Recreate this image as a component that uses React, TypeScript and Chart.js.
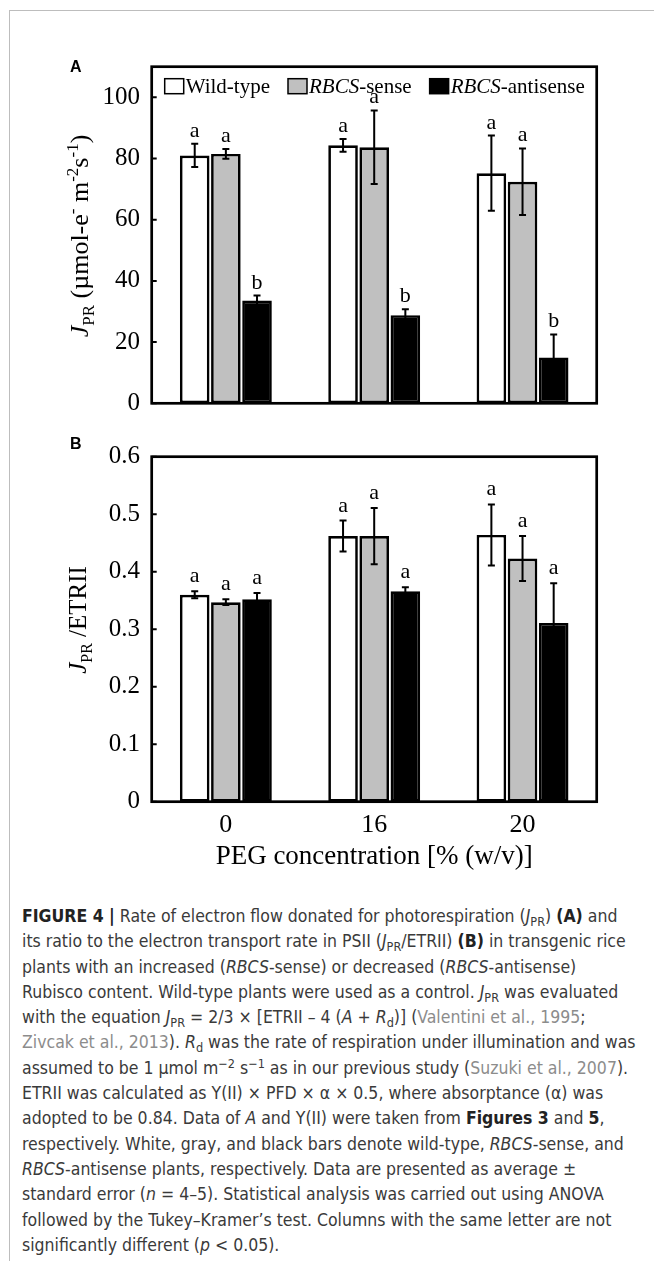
import React, { useEffect, useRef } from "react";
import { Chart, registerables } from "chart.js";

Chart.register(...registerables);

// ---------- data ----------
const categories = ["0", "16", "20"];
const seriesNames = ["Wild-type", "RBCS-sense", "RBCS-antisense"];
const seriesFill = ["#ffffff", "#c0c0c0", "#000000"];

// Panel A: J_PR (µmol e- m-2 s-1)
const jprWild = [81.0, 84.3, 75.2];
const jprWildErr = [3.8, 2.1, 12.3];
const jprSense = [81.5, 83.7, 72.4];
const jprSenseErr = [1.6, 12.0, 10.9];
const jprAnti = [33.6, 28.8, 15.0];
const jprAntiErr = [1.6, 1.9, 7.5];
const jprWildLetters = ["a", "a", "a"];
const jprSenseLetters = ["a", "a", "a"];
const jprAntiLetters = ["b", "b", "b"];
const yTicksA = [0, 20, 40, 60, 80, 100];
const yTickLabelsA = ["0", "20", "40", "60", "80", "100"];
const yMaxA = 110;

// Panel B: J_PR / ETRII
const ratioWild = [0.36, 0.462, 0.464];
const ratioWildErr = [0.006, 0.027, 0.053];
const ratioSense = [0.347, 0.462, 0.423];
const ratioSenseErr = [0.005, 0.049, 0.039];
const ratioAnti = [0.352, 0.366, 0.311];
const ratioAntiErr = [0.011, 0.007, 0.069];
const ratioWildLetters = ["a", "a", "a"];
const ratioSenseLetters = ["a", "a", "a"];
const ratioAntiLetters = ["a", "a", "a"];
const yTicksB = [0, 0.1, 0.2, 0.3, 0.4, 0.5, 0.6];
const yTickLabelsB = ["0", "0.1", "0.2", "0.3", "0.4", "0.5", "0.6"];
const yMaxB = 0.6;

const xTitle = "PEG concentration [% (w/v)]";

// ---------- drawing helpers ----------
const SERIF = '"Liberation Serif", "Times New Roman", serif';
const SANS = '"Liberation Sans", Arial, sans-serif';

type Seg = { text: string; font: string; dy?: number };

function drawRich(ctx: CanvasRenderingContext2D, segs: Seg[], x: number, y: number, rotate: boolean, align: "center" | "left" = "center") {
  ctx.save();
  ctx.translate(x, y);
  if (rotate) ctx.rotate(-Math.PI / 2);
  let total = 0;
  const widths = segs.map((s) => {
    ctx.font = s.font;
    const w = ctx.measureText(s.text).width;
    total += w;
    return w;
  });
  let cx = align === "center" ? -total / 2 : 0;
  ctx.textBaseline = "alphabetic";
  ctx.textAlign = "left";
  ctx.fillStyle = "#000";
  segs.forEach((s, i) => {
    ctx.font = s.font;
    ctx.fillText(s.text, cx, s.dy || 0);
    cx += widths[i];
  });
  ctx.restore();
  return total;
}

type PanelSpec = {
  key: string;
  canvasTop: number;
  canvasHeight: number;
  padTop: number;
  padBottom: number;
  values: number[][];
  errors: number[][];
  letters: string[][];
  letterGap: number;
  ticks: number[];
  tickLabels: string[];
  max: number;
  showX: boolean;
  panelLabel: string;
  panelLabelY: number;
  yTitle: Seg[];
  yTitleX: number;
  yTitleCenterY: number; // canvas coords
  legend: boolean;
};

function decorPlugin(p: PanelSpec) {
  return {
    id: "decor" + p.key,
    afterDatasetsDraw(chart: any) {
      const ctx: CanvasRenderingContext2D = chart.ctx;
      const { left, right, top, bottom } = chart.chartArea;
      const y = chart.scales.y;
      ctx.save();
      // error bars and letters
      chart.data.datasets.forEach((ds: any, di: number) => {
        const meta = chart.getDatasetMeta(di);
        meta.data.forEach((bar: any, i: number) => {
          const v = ds.data[i];
          const e = p.errors[di][i];
          const yt = y.getPixelForValue(v + e);
          const yb = y.getPixelForValue(Math.max(0, v - e));
          ctx.strokeStyle = "#000";
          ctx.lineWidth = 2;
          ctx.beginPath();
          ctx.moveTo(bar.x, yt);
          ctx.lineTo(bar.x, yb);
          ctx.moveTo(bar.x - 3.5, yt);
          ctx.lineTo(bar.x + 3.5, yt);
          ctx.moveTo(bar.x - 3.5, yb);
          ctx.lineTo(bar.x + 3.5, yb);
          ctx.stroke();
          ctx.fillStyle = "#000";
          ctx.font = `22px ${SERIF}`;
          ctx.textAlign = "center";
          ctx.textBaseline = "alphabetic";
          ctx.fillText(p.letters[di][i], bar.x, yt - p.letterGap);
        });
      });
      // frame
      ctx.strokeStyle = "#000";
      ctx.lineWidth = 2.7;
      ctx.strokeRect(left, top, right - left, bottom - top);
      // inward ticks
      ctx.lineWidth = 2;
      ctx.beginPath();
      p.ticks.forEach((t) => {
        const py = y.getPixelForValue(t);
        ctx.moveTo(left, py);
        ctx.lineTo(left + 5, py);
      });
      ctx.stroke();
      // panel label
      ctx.fillStyle = "#000";
      ctx.font = `bold 16px ${SANS}`;
      ctx.textAlign = "left";
      ctx.textBaseline = "middle";
      ctx.fillText(p.panelLabel, 70, p.panelLabelY);
      // y title
      drawRich(ctx, p.yTitle, p.yTitleX, p.yTitleCenterY, true);
      // x title
      if (p.showX) {
        ctx.font = `27px ${SERIF}`;
        ctx.textAlign = "center";
        ctx.textBaseline = "alphabetic";
        ctx.fillStyle = "#000";
        ctx.fillText(xTitle, (left + right) / 2, bottom + 62);
      }
      // legend
      if (p.legend) {
        let x = left + 13;
        const base = top + 26;
        seriesNames.forEach((name, i) => {
          ctx.fillStyle = seriesFill[i];
          ctx.fillRect(x, base - 14, 19, 15);
          ctx.strokeStyle = "#000";
          ctx.lineWidth = 1.5;
          ctx.strokeRect(x, base - 14, 19, 15);
          x += 21;
          let segs: Seg[];
          if (name.startsWith("RBCS")) {
            segs = [
              { text: "RBCS", font: `italic 21px ${SERIF}` },
              { text: name.slice(4), font: `21px ${SERIF}` },
            ];
          } else {
            segs = [{ text: name, font: `21px ${SERIF}` }];
          }
          const w = drawRich(ctx, segs, x, base, false, "left");
          x += w + 18;
        });
      }
      ctx.restore();
    },
  };
}

function makeConfig(p: PanelSpec): any {
  return {
    type: "bar",
    data: {
      labels: categories,
      datasets: p.values.map((vals, i) => ({
        label: seriesNames[i],
        data: vals,
        backgroundColor: seriesFill[i],
        borderColor: "#000",
        borderWidth: 2.7,
        borderSkipped: false,
        categoryPercentage: 0.63,
        barPercentage: 0.95,
      })),
    },
    options: {
      responsive: false,
      animation: false,
      devicePixelRatio: 1,
      layout: { padding: { left: 0, right: 57.3, top: p.padTop, bottom: p.padBottom } },
      plugins: { legend: { display: false }, tooltip: { enabled: false }, title: { display: false } },
      scales: {
        x: {
          display: p.showX,
          grid: { display: false, drawTicks: false },
          border: { display: false },
          ticks: { font: { family: SERIF, size: 26 }, color: "#000", padding: 8 },
          afterFit: (s: any) => {
            s.height = p.showX ? 40 : 0;
          },
        },
        y: {
          min: 0,
          max: p.max,
          afterBuildTicks: (s: any) => {
            s.ticks = p.ticks.map((v) => ({ value: v }));
          },
          ticks: {
            callback: (_v: any, i: number) => p.tickLabels[i],
            font: { family: SERIF, size: 25 },
            color: "#000",
            padding: 11.7,
            autoSkip: false,
          },
          grid: { display: false, drawTicks: false },
          border: { display: false },
          afterFit: (s: any) => {
            s.width = 151.7;
          },
        },
      },
    },
    plugins: [decorPlugin(p)],
  };
}

const panelA: PanelSpec = {
  key: "A",
  canvasTop: 40,
  canvasHeight: 390,
  padTop: 22.7,
  padBottom: 11.7,
  values: [jprWild, jprSense, jprAnti],
  errors: [jprWildErr, jprSenseErr, jprAntiErr],
  letters: [jprWildLetters, jprSenseLetters, jprAntiLetters],
  letterGap: 7,
  ticks: yTicksA,
  tickLabels: yTickLabelsA,
  max: yMaxA,
  showX: false,
  panelLabel: "A",
  panelLabelY: 28,
  yTitle: [
    { text: "J", font: `italic 26px ${SERIF}` },
    { text: "PR", font: `17px ${SERIF}`, dy: 6 },
    { text: " (µmol-e", font: `26px ${SERIF}` },
    { text: "-", font: `17px ${SERIF}`, dy: -10 },
    { text: " m", font: `26px ${SERIF}` },
    { text: "-2", font: `17px ${SERIF}`, dy: -10 },
    { text: "s", font: `26px ${SERIF}` },
    { text: "-1", font: `17px ${SERIF}`, dy: -10 },
    { text: ")", font: `26px ${SERIF}` },
  ],
  yTitleX: 88,
  yTitleCenterY: 196,
  legend: true,
};

const panelB: PanelSpec = {
  key: "B",
  canvasTop: 430,
  canvasHeight: 447,
  padTop: 16.7,
  padBottom: 447 - 371.7 - 40,
  values: [ratioWild, ratioSense, ratioAnti],
  errors: [ratioWildErr, ratioSenseErr, ratioAntiErr],
  letters: [ratioWildLetters, ratioSenseLetters, ratioAntiLetters],
  letterGap: 9,
  ticks: yTicksB,
  tickLabels: yTickLabelsB,
  max: yMaxB,
  showX: true,
  panelLabel: "B",
  panelLabelY: 15,
  yTitle: [
    { text: "J", font: `italic 25px ${SERIF}` },
    { text: "PR", font: `16px ${SERIF}`, dy: 6 },
    { text: " /ETRII", font: `25px ${SERIF}` },
  ],
  yTitleX: 86,
  yTitleCenterY: 190,
  legend: false,
};

function Panel({ spec }: { spec: PanelSpec }) {
  const ref = useRef<HTMLCanvasElement | null>(null);
  useEffect(() => {
    if (!ref.current) return;
    const chart = new Chart(ref.current, makeConfig(spec));
    return () => chart.destroy();
  }, []);
  return (
    <canvas
      ref={ref}
      width={654}
      height={spec.canvasHeight}
      style={{ position: "absolute", left: 0, top: spec.canvasTop, width: 654, height: spec.canvasHeight }}
    />
  );
}

const cite: React.CSSProperties = { color: "#8c8c8c" };
const subS: React.CSSProperties = { fontSize: "0.72em", verticalAlign: "-0.28em", lineHeight: 0 };
const supS: React.CSSProperties = { fontSize: "0.72em", verticalAlign: "0.45em", lineHeight: 0 };
const boldS: React.CSSProperties = { color: "#222" };
const Jpr = () => (
  <>
    <i>J</i>
    <span style={subS}>PR</span>
  </>
);

const captionLines: React.ReactNode[] = [
  <>
    <b style={boldS}>FIGURE 4 |</b> Rate of electron flow donated for photorespiration (<Jpr />) <b style={boldS}>(A)</b> and
  </>,
  <>
    its ratio to the electron transport rate in PSII (<Jpr />/ETRII) <b style={boldS}>(B)</b> in transgenic rice
  </>,
  <>
    plants with an increased (<i>RBCS</i>-sense) or decreased (<i>RBCS</i>-antisense)
  </>,
  <>
    Rubisco content. Wild-type plants were used as a control. <Jpr /> was evaluated
  </>,
  <>
    with the equation <Jpr /> = 2/3 × [ETRII – 4 (<i>A</i> + <i>R</i>
    <span style={subS}>d</span>)] (<span style={cite}>Valentini et al., 1995</span>;
  </>,
  <>
    <span style={cite}>Zivcak et al., 2013</span>). <i>R</i>
    <span style={subS}>d</span> was the rate of respiration under illumination and was
  </>,
  <>
    assumed to be 1 µmol m<span style={supS}>−2</span> s<span style={supS}>−1</span> as in our previous study (
    <span style={cite}>Suzuki et al., 2007</span>).
  </>,
  <>ETRII was calculated as Y(II) × PFD × α × 0.5, where absorptance (α) was</>,
  <>
    adopted to be 0.84. Data of <i>A</i> and Y(II) were taken from <b style={boldS}>Figures 3</b> and{" "}
    <b style={boldS}>5</b>,
  </>,
  <>
    respectively. White, gray, and black bars denote wild-type, <i>RBCS</i>-sense, and
  </>,
  <>
    <i>RBCS</i>-antisense plants, respectively. Data are presented as average ±
  </>,
  <>
    standard error (<i>n</i> = 4–5). Statistical analysis was carried out using ANOVA
  </>,
  <>followed by the Tukey–Kramer’s test. Columns with the same letter are not</>,
  <>
    significantly different (<i>p</i> &lt; 0.05).
  </>,
];

export default function App() {
  return (
    <div style={{ position: "absolute", left: 0, top: 0, width: 654, height: 1261, background: "#fff", overflow: "hidden" }}>
      <div
        style={{
          position: "absolute",
          left: 9,
          top: 10,
          width: 660,
          height: 1300,
          borderTop: "1px solid #bdbdbd",
          borderLeft: "1px solid #bdbdbd",
        }}
      />
      <Panel spec={panelA} />
      <Panel spec={panelB} />
      <div
        style={{
          position: "absolute",
          left: 22,
          top: 904,
          fontFamily: '"Liberation Sans Narrow", "Arial Narrow", "DejaVu Sans Condensed", sans-serif',
          fontSize: 17.5,
          color: "#3a3a3a",
        }}
      >
        {captionLines.map((l, i) => (
          <div key={i} style={{ height: 25.3, lineHeight: "25.3px", whiteSpace: "nowrap" }}>
            {l}
          </div>
        ))}
      </div>
    </div>
  );
}
